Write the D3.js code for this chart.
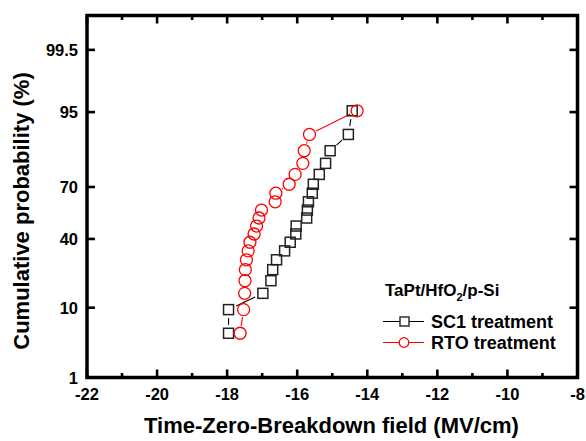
<!DOCTYPE html>
<html>
<head>
<meta charset="utf-8">
<script src="https://cdn.jsdelivr.net/npm/d3@7"></script>
<style>
    body { margin: 0; background: #fff; }
    svg text { font-family: Arial, "Liberation Sans", sans-serif; font-weight: bold; }
</style>
</head>
<body>
<div id="chart"></div>
<script>
    // cumulative probability (%) levels
    var probLevels = [4.8, 9.5, 14.3, 19.0, 23.8, 28.6, 33.3, 38.1, 42.9, 47.6,
                      52.4, 57.1, 61.9, 66.7, 71.4, 76.2, 81.0, 85.7, 90.5, 95.2];
    // breakdown field (MV/cm)
    var sc1Field = [-17.96, -17.96, -16.98, -16.75, -16.70, -16.59, -16.36, -16.20, -16.04, -16.03,
                    -15.73, -15.71, -15.68, -15.57, -15.54, -15.37, -15.19, -15.06, -14.54, -14.43];
    var rtoField = [-17.63, -17.53, -17.50, -17.49, -17.48, -17.45, -17.40, -17.35, -17.23, -17.16,
                    -17.09, -17.02, -16.63, -16.61, -16.23, -16.06, -15.84, -15.80, -15.65, -14.29];
    var yTicks = [1, 10, 40, 70, 95, 99.5];
    var xTicks = [-22, -20, -18, -16, -14, -12, -10, -8];
    var seriesNames = ["SC1 treatment", "RTO treatment"];

    (function () {
        'use strict';

        // inverse normal cdf (Acklam) for the probability axis
        function probit(p) {
            var a = [-39.69683028665376, 220.9460984245205, -275.9285104469687, 138.3577518672690, -30.66479806614716, 2.506628277459239];
            var b = [-54.47609879822406, 161.5858368580409, -155.6989798598866, 66.80131188771972, -13.28068155288572];
            var c = [-0.007784894002430293, -0.3223964580411365, -2.400758277161838, -2.549732539343734, 4.374664141464968, 2.938163982698783];
            var d = [0.007784695709041462, 0.3224671290700398, 2.445134137142996, 3.754408661907416];
            var q, r;
            if (p < 0.02425) {
                q = Math.sqrt(-2 * Math.log(p));
                return (((((c[0]*q+c[1])*q+c[2])*q+c[3])*q+c[4])*q+c[5]) / ((((d[0]*q+d[1])*q+d[2])*q+d[3])*q+1);
            }
            if (p > 1 - 0.02425) {
                q = Math.sqrt(-2 * Math.log(1 - p));
                return -(((((c[0]*q+c[1])*q+c[2])*q+c[3])*q+c[4])*q+c[5]) / ((((d[0]*q+d[1])*q+d[2])*q+d[3])*q+1);
            }
            q = p - 0.5;
            r = q * q;
            return (((((a[0]*r+a[1])*r+a[2])*r+a[3])*r+a[4])*r+a[5])*q / (((((b[0]*r+b[1])*r+b[2])*r+b[3])*r+b[4])*r+1);
        }

        var width = 586, height = 441;
        var frameLeft = 87, frameRight = 577.5, frameTop = 15.5, frameBottom = 377.5;

        var svg = d3.select("#chart").append("svg")
            .attr("width", width)
            .attr("height", height);

        var x = d3.scaleLinear().domain([-22, -8]).range([frameLeft, frameRight]);
        var yLin = d3.scaleLinear().domain([probit(0.01), probit(0.999)]).range([frameBottom, frameTop]);
        function y(pct) { return yLin(probit(pct / 100)); }

        // ticks (all pointing inward)
        var minorX = d3.range(-22, -7, 1);
        var tickG = svg.append("g").attr("stroke", "#000").attr("stroke-width", 2.6);
        minorX.forEach(function (v) {
            var len = (v % 2 === 0) ? 8 : 4.5;
            tickG.append("line").attr("x1", x(v)).attr("x2", x(v)).attr("y1", frameBottom).attr("y2", frameBottom - len);
            tickG.append("line").attr("x1", x(v)).attr("x2", x(v)).attr("y1", frameTop).attr("y2", frameTop + len);
        });
        yTicks.forEach(function (v) {
            tickG.append("line").attr("x1", frameLeft).attr("x2", frameLeft + 8).attr("y1", y(v)).attr("y2", y(v));
            tickG.append("line").attr("x1", frameRight).attr("x2", frameRight - 8).attr("y1", y(v)).attr("y2", y(v));
        });

        // frame
        svg.append("rect")
            .attr("x", frameLeft).attr("y", frameTop)
            .attr("width", frameRight - frameLeft).attr("height", frameBottom - frameTop)
            .attr("fill", "none").attr("stroke", "#000").attr("stroke-width", 3.5);

        // tick labels
        svg.append("g").selectAll("text")
            .data(xTicks).enter().append("text")
            .attr("x", function (d) { return x(d); })
            .attr("y", 400)
            .attr("text-anchor", "middle")
            .attr("font-size", "16.5px")
            .text(function (d) { return d; });

        svg.append("g").selectAll("text")
            .data(yTicks).enter().append("text")
            .attr("x", 78)
            .attr("y", function (d) { return y(d) + 6; })
            .attr("text-anchor", "end")
            .attr("font-size", "16.5px")
            .text(function (d) { return d; });

        // axis titles
        svg.append("text")
            .attr("x", (143 + 520) / 2).attr("y", 433)
            .attr("text-anchor", "middle")
            .attr("font-size", "22px")
            .text("Time-Zero-Breakdown field (MV/cm)");

        svg.append("text")
            .attr("transform", "translate(29,211) rotate(-90)")
            .attr("text-anchor", "middle")
            .attr("font-size", "22px")
            .text("Cumulative probability (%)");

        // connecting lines with gaps at the symbols, like Origin draws them
        function gappedLines(g, pts, gap, color) {
            for (var i = 0; i < pts.length - 1; i++) {
                var p0 = pts[i], p1 = pts[i + 1];
                var dx = p1[0] - p0[0], dy = p1[1] - p0[1];
                var len = Math.sqrt(dx * dx + dy * dy);
                if (len <= 2 * gap + 1) continue;
                var ux = dx / len, uy = dy / len;
                g.append("line")
                    .attr("x1", p0[0] + ux * gap).attr("y1", p0[1] + uy * gap)
                    .attr("x2", p1[0] - ux * gap).attr("y2", p1[1] - uy * gap)
                    .attr("stroke", color).attr("stroke-width", 1.1);
            }
        }

        var sc1Pts = sc1Field.map(function (v, i) { return [x(v), y(probLevels[i])]; });
        var rtoPts = rtoField.map(function (v, i) { return [x(v), y(probLevels[i])]; });

        var plot = svg.append("g");
        gappedLines(plot, sc1Pts, 8.5, "#000");
        gappedLines(plot, rtoPts, 7.5, "#ff0000");

        plot.selectAll("rect.sc1")
            .data(sc1Pts).enter().append("rect")
            .attr("class", "sc1")
            .attr("x", function (d) { return d[0] - 5; })
            .attr("y", function (d) { return d[1] - 5; })
            .attr("width", 10).attr("height", 10)
            .attr("fill", "none").attr("stroke", "#222").attr("stroke-width", 1.5);

        plot.selectAll("circle.rto")
            .data(rtoPts).enter().append("circle")
            .attr("class", "rto")
            .attr("cx", function (d) { return d[0]; })
            .attr("cy", function (d) { return d[1]; })
            .attr("r", 6)
            .attr("fill", "none").attr("stroke", "#ff0000").attr("stroke-width", 1.3);

        // legend
        var legend = svg.append("g");
        var header = legend.append("text").attr("x", 385).attr("y", 296).attr("font-size", "17px");
        header.append("tspan").text("TaPt/HfO");
        header.append("tspan").attr("font-size", "11px").attr("dy", 5).text("2");
        header.append("tspan").attr("dy", -5).text("/p-Si");

        var legendRows = [
            { name: seriesNames[0], y: 321.5, color: "#000", shape: "square" },
            { name: seriesNames[1], y: 342.5, color: "#ff0000", shape: "circle" }
        ];
        legendRows.forEach(function (row) {
            legend.append("line")
                .attr("x1", 383).attr("x2", 424).attr("y1", row.y).attr("y2", row.y)
                .attr("stroke", row.color).attr("stroke-width", 1.1);
            if (row.shape === "square") {
                legend.append("rect")
                    .attr("x", 400).attr("y", row.y - 4.5).attr("width", 9).attr("height", 9)
                    .attr("fill", "#fff").attr("stroke", "#222").attr("stroke-width", 1.4);
            } else {
                legend.append("circle")
                    .attr("cx", 404).attr("cy", row.y).attr("r", 4.8)
                    .attr("fill", "#fff").attr("stroke", row.color).attr("stroke-width", 1.3);
            }
            legend.append("text")
                .attr("x", 431).attr("y", row.y + 6.5)
                .attr("font-size", "18px")
                .text(row.name);
        });
    })();
</script>
</body>
</html>
